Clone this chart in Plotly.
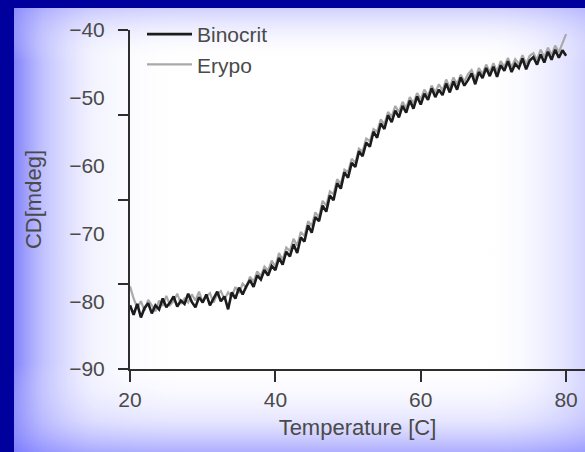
import plotly.graph_objects as go

# ---------------- data ----------------
temperature = [
    20.0, 20.5, 21.0, 21.5, 22.0, 22.5, 23.0, 23.5, 24.0, 24.5,
    25.0, 25.5, 26.0, 26.5, 27.0, 27.5, 28.0, 28.5, 29.0, 29.5,
    30.0, 30.5, 31.0, 31.5, 32.0, 32.5, 33.0, 33.5, 34.0, 34.5,
    35.0, 35.5, 36.0, 36.5, 37.0, 37.5, 38.0, 38.5, 39.0, 39.5,
    40.0, 40.5, 41.0, 41.5, 42.0, 42.5, 43.0, 43.5, 44.0, 44.5,
    45.0, 45.5, 46.0, 46.5, 47.0, 47.5, 48.0, 48.5, 49.0, 49.5,
    50.0, 50.5, 51.0, 51.5, 52.0, 52.5, 53.0, 53.5, 54.0, 54.5,
    55.0, 55.5, 56.0, 56.5, 57.0, 57.5, 58.0, 58.5, 59.0, 59.5,
    60.0, 60.5, 61.0, 61.5, 62.0, 62.5, 63.0, 63.5, 64.0, 64.5,
    65.0, 65.5, 66.0, 66.5, 67.0, 67.5, 68.0, 68.5, 69.0, 69.5,
    70.0, 70.5, 71.0, 71.5, 72.0, 72.5, 73.0, 73.5, 74.0, 74.5,
    75.0, 75.5, 76.0, 76.5, 77.0, 77.5, 78.0, 78.5, 79.0, 79.5,
    80.0,
]

binocrit = [
    -80.6, -82.0, -80.4, -82.4, -81.0, -80.3, -81.8, -80.6, -81.2, -79.6,
    -80.9, -80.2, -79.3, -80.8, -79.9, -80.4, -78.9, -80.1, -80.9, -79.4,
    -80.2, -79.0, -80.6, -79.5, -78.6, -80.0, -79.3, -81.2, -78.7, -79.6,
    -78.0, -79.0, -77.8, -76.9, -77.9, -76.2, -76.8, -75.4, -76.2, -74.8,
    -75.4, -73.6, -74.6, -72.7, -73.4, -71.6, -72.9, -70.6, -71.2, -68.8,
    -69.9, -67.6, -68.2, -65.9, -66.8, -64.4, -65.1, -62.6, -63.4, -61.0,
    -61.8, -59.6, -60.2, -57.9, -58.6, -56.6, -57.2, -55.0, -55.9, -53.8,
    -54.6, -52.6, -53.6, -51.9, -52.9, -51.2, -52.2, -50.4, -51.6, -49.8,
    -51.0, -49.4, -50.3, -48.6, -49.9, -48.8, -49.6, -47.9, -49.2, -47.6,
    -48.8, -47.0, -48.2, -47.4, -46.4, -48.0, -46.2, -47.1, -45.6, -46.8,
    -45.4, -46.9, -45.2, -46.0, -44.6, -46.2, -45.0, -45.6, -44.2, -45.8,
    -44.5, -44.0, -45.1, -43.6, -44.8, -43.2, -44.4, -42.9, -44.1, -43.0,
    -43.8,
]

erypo = [
    -77.8, -79.6, -81.0, -80.0, -81.4, -79.8, -80.6, -81.5, -79.9, -80.7,
    -79.2, -80.6, -80.0, -78.9, -80.4, -79.6, -80.2, -79.0, -79.9, -78.6,
    -80.1, -79.3, -78.8, -80.2, -79.0, -78.5, -79.7, -78.7, -79.4, -77.9,
    -78.8, -77.4, -78.0, -76.4, -77.1, -75.6, -76.3, -74.9, -75.5, -74.0,
    -74.9, -72.9, -73.9, -72.1, -72.6, -70.8, -71.8, -69.8, -70.4, -68.2,
    -68.9, -66.9, -67.6, -65.2, -65.9, -63.8, -64.2, -62.0, -62.7, -60.6,
    -61.0, -59.0, -59.6, -57.5, -57.9, -56.0, -56.4, -54.6, -55.0, -53.2,
    -53.9, -52.1, -52.8, -51.2, -52.1, -50.6, -51.5, -49.9, -50.8, -49.3,
    -50.2, -48.8, -49.7, -48.2, -49.2, -48.0, -48.9, -47.3, -48.5, -47.0,
    -48.0, -46.6, -47.6, -46.5, -45.9, -47.2, -45.6, -46.5, -45.1, -46.2,
    -44.9, -46.1, -44.6, -45.4, -44.1, -45.5, -44.3, -45.0, -43.7, -45.0,
    -43.8, -43.4, -44.4, -42.9, -44.0, -42.6, -43.7, -42.3, -43.3, -42.0,
    -40.6,
]

y_label_vals = [-40, -50, -60, -70, -80, -90]
y_mark_vals = [-40, -52.5, -65, -77.5, -90]
x_tick_vals = [20, 40, 60, 80]

# ---------------- figure ----------------
W, H = 585, 452
FRAME = "#00009c"
TXT = "#4a4a4a"
FONT = "Liberation Sans, Arial, sans-serif"

fig = go.Figure()

# background panel (light panel with bluish vignette) on a full-figure axis pair
panel_x = [14, W, W, 14, 14]
panel_y = [0, 0, H - 8, H - 8, 0]
fig.add_trace(go.Scatter(x=panel_x, y=panel_y, mode="lines", fill="toself",
                         fillcolor="white", line=dict(width=0),
                         hoverinfo="skip", showlegend=False,
                         xaxis="x", yaxis="y"))
fig.add_trace(go.Scatter(
    x=panel_x, y=panel_y, mode="lines", fill="toself", line=dict(width=0),
    fillgradient=dict(type="horizontal", start=14, stop=W, colorscale=[
        [0.0, "rgba(100,100,250,0.80)"],
        [0.05, "rgba(130,130,255,0.50)"],
        [0.14, "rgba(190,190,255,0.18)"],
        [0.30, "rgba(255,255,255,0)"],
        [0.82, "rgba(255,255,255,0)"],
        [1.0, "rgba(160,160,255,0.45)"]]),
    hoverinfo="skip", showlegend=False, xaxis="x", yaxis="y"))
fig.add_trace(go.Scatter(
    x=panel_x, y=panel_y, mode="lines", fill="toself", line=dict(width=0),
    fillgradient=dict(type="vertical", start=0, stop=H - 8, colorscale=[
        [0.0, "rgba(120,120,255,0.60)"],
        [0.07, "rgba(170,170,255,0.30)"],
        [0.20, "rgba(255,255,255,0)"],
        [0.88, "rgba(255,255,255,0)"],
        [1.0, "rgba(150,150,255,0.45)"]]),
    hoverinfo="skip", showlegend=False, xaxis="x", yaxis="y"))

# data
fig.add_trace(go.Scatter(x=temperature, y=erypo, mode="lines", name="Erypo",
                         line=dict(color="#a9a9a9", width=2.2),
                         legendrank=2, xaxis="x2", yaxis="y2"))
fig.add_trace(go.Scatter(x=temperature, y=binocrit, mode="lines", name="Binocrit",
                         line=dict(color="#1c1c1c", width=2.6),
                         legendrank=1, xaxis="x2", yaxis="y2"))

x_dom = [130 / W, 1.0]
y_dom = [(H - 369) / H, (H - 30) / H]
x_rng = [20, 82.6]
y_rng = [-90, -40]

fig.update_layout(
    width=W, height=H,
    margin=dict(l=0, r=0, t=0, b=0),
    paper_bgcolor=FRAME,
    plot_bgcolor="rgba(0,0,0,0)",
    font=dict(family=FONT, color=TXT, size=21),
    xaxis=dict(domain=[0, 1], range=[0, W], visible=False, fixedrange=True),
    yaxis=dict(domain=[0, 1], range=[0, H], visible=False, fixedrange=True),
    xaxis2=dict(domain=x_dom, range=x_rng, anchor="y2",
                showline=True, linecolor="#2e2e2e", linewidth=2,
                showgrid=False, zeroline=False,
                tickvals=x_tick_vals, ticks="outside", ticklen=11,
                tickwidth=2, tickcolor="#2e2e2e", ticklabelstandoff=0,
                tickfont=dict(size=21, color=TXT),
                title=dict(text="Temperature [C]", standoff=9,
                           font=dict(size=22, color=TXT)),
                automargin=False),
    yaxis2=dict(domain=y_dom, range=y_rng, anchor="x2",
                showline=True, linecolor="#2e2e2e", linewidth=2,
                showgrid=False, zeroline=False,
                tickvals=y_mark_vals, ticks="outside", ticklen=10,
                tickwidth=2, tickcolor="#2e2e2e", showticklabels=False,
                title=dict(text="CD[mdeg]", standoff=70,
                           font=dict(size=22, color=TXT)),
                automargin=False),
    yaxis3=dict(overlaying="y2", anchor="x2", side="left", range=y_rng,
                showline=False, showgrid=False, zeroline=False,
                tickvals=y_label_vals, ticks="outside", ticklen=20,
                tickcolor="rgba(0,0,0,0)", tickfont=dict(size=21, color=TXT),
                automargin=False),
    legend=dict(x=142 / W, y=1 - 14 / H, xanchor="left", yanchor="top",
                bgcolor="rgba(0,0,0,0)", borderwidth=0, itemwidth=45,
                font=dict(size=21, color=TXT), traceorder="normal"),
    showlegend=True,
)

# ensure overlay axis is drawn
fig.add_trace(go.Scatter(x=[None], y=[None], xaxis="x2", yaxis="y3",
                         showlegend=False, hoverinfo="skip"))

fig.write_html("out.html")
